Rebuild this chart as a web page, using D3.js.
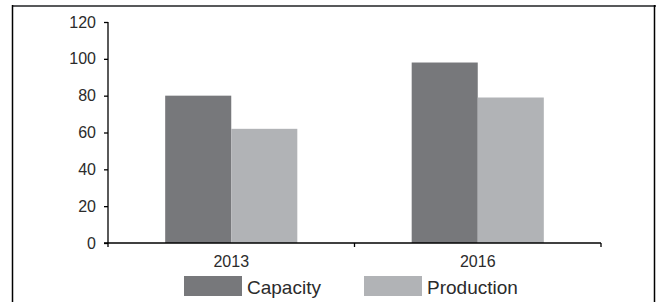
<!DOCTYPE html>
<html>
<head>
<meta charset="utf-8">
<script src="https://cdn.jsdelivr.net/npm/d3@7"></script>
<style>
  body { margin: 0; background: #fff; }
  svg text { font-family: "Liberation Sans", Arial, sans-serif; fill: #2b2b2b; }
</style>
</head>
<body>
<svg id="chart" width="656" height="302"></svg>
<script>
// --- data ---
const years = ["2013", "2016"];
const series = ["Capacity", "Production"];
const capacity = [80, 98];
const production = [62, 79];
const yTicks = [0, 20, 40, 60, 80, 100, 120];

const colors = { Capacity: "#77787b", Production: "#b1b3b6" };

const rows = years.map((y, i) => ({ year: y, Capacity: capacity[i], Production: production[i] }));

const svg = d3.select("#chart");

// khung ngoài
svg.append("line").attr("x1", 12).attr("x2", 656).attr("y1", 6).attr("y2", 6)
  .attr("stroke", "#58595b").attr("stroke-width", 2);
svg.append("line").attr("x1", 12.5).attr("x2", 12.5).attr("y1", 5).attr("y2", 302)
  .attr("stroke", "#000").attr("stroke-width", 1.5);
svg.append("line").attr("x1", 654.5).attr("x2", 654.5).attr("y1", 5).attr("y2", 302)
  .attr("stroke", "#000").attr("stroke-width", 1.5);

// scales
const x0 = d3.scaleBand().domain(years).range([108, 601]).padding(0);
const bw = x0.bandwidth();
const x1 = d3.scaleBand().domain(series).range([bw * 0.232, bw * 0.768]).padding(0);
const y = d3.scaleLinear().domain([0, 120]).range([243, 22]);

// bars
const g = svg.append("g");
g.selectAll("g.grp")
  .data(rows)
  .enter().append("g")
    .attr("class", "grp")
    .attr("transform", d => `translate(${x0(d.year)},0)`)
  .selectAll("rect")
  .data(d => series.map(s => ({ key: s, value: d[s] })))
  .enter().append("rect")
    .attr("x", d => x1(d.key))
    .attr("y", d => y(d.value))
    .attr("width", x1.bandwidth())
    .attr("height", d => y(0) - y(d.value))
    .attr("fill", d => colors[d.key]);

// trục Y
const yAxis = svg.append("g")
  .attr("transform", "translate(108,0)")
  .call(d3.axisLeft(y).tickValues(yTicks).tickSize(4).tickPadding(8));
yAxis.selectAll("text").style("font-size", "16px");
yAxis.selectAll("line, path").attr("stroke", "#000").attr("stroke-width", 1.3);
yAxis.select(".domain").attr("d", "M0,22V243");

// trục X
const xAxis = svg.append("g")
  .attr("transform", "translate(0,243)");
xAxis.append("line").attr("x1", 104).attr("x2", 601).attr("y1", 0).attr("y2", 0)
  .attr("stroke", "#000").attr("stroke-width", 1.3);
xAxis.selectAll("line.tick")
  .data([x0.range()[0], x0(years[1]), x0.range()[1]])
  .enter().append("line")
    .attr("class", "tick")
    .attr("x1", d => d).attr("x2", d => d)
    .attr("y1", 0).attr("y2", 4)
    .attr("stroke", "#000").attr("stroke-width", 1.3);
xAxis.selectAll("text")
  .data(years)
  .enter().append("text")
    .attr("x", d => x0(d) + bw / 2)
    .attr("y", 24)
    .attr("text-anchor", "middle")
    .style("font-size", "16px")
    .text(d => d);

// legend
const legendX = [184, 364];
const legend = svg.selectAll("g.legend")
  .data(series)
  .enter().append("g")
    .attr("class", "legend")
    .attr("transform", (d, i) => `translate(${legendX[i]},276)`);
legend.append("rect")
  .attr("width", 58).attr("height", 20)
  .attr("fill", d => colors[d]);
legend.append("text")
  .attr("x", 63).attr("y", 18)
  .style("font-size", "19px")
  .text(d => d);
</script>
</body>
</html>
